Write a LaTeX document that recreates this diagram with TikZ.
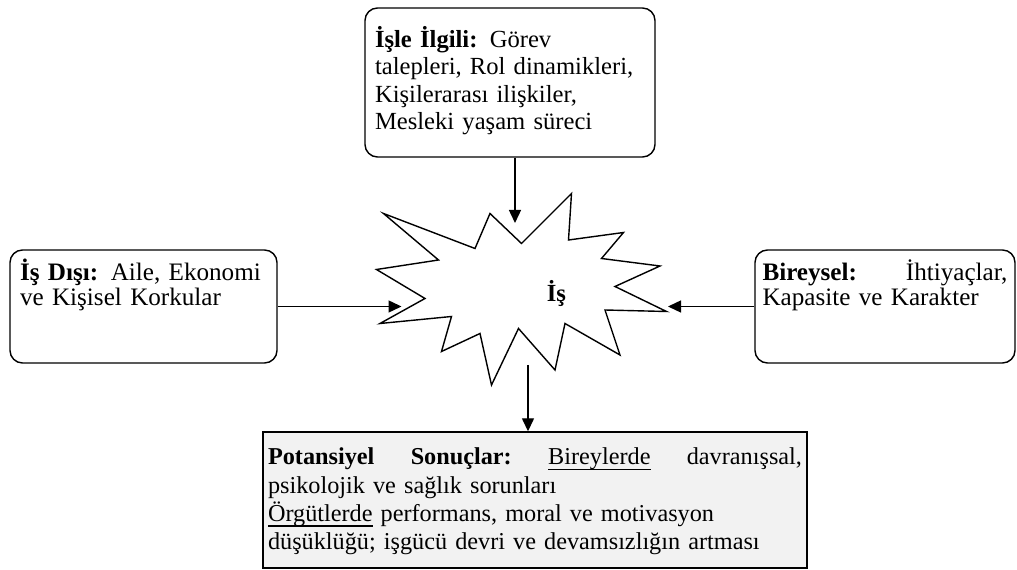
\documentclass[tikz,border=0pt]{standalone}
\usepackage{fontspec}
\setmainfont{Liberation Serif}
\usetikzlibrary{arrows.meta}
\definecolor{resultgray}{HTML}{F2F2F2}
\newcommand{\lineunder}[1]{\leavevmode\setbox0=\hbox{#1}\rlap{\rule[-3pt]{\wd0}{0.6pt}}\box0\relax}

\begin{document}
\begin{tikzpicture}[thick, >={Triangle[length=0.26cm,width=0.24cm]},
  factor node/.style={draw, rounded corners=0.25cm, align=left, inner ysep=0.2cm},
  result node/.style={draw, fill=resultgray, align=left, inner ysep=0.15cm, font=\fontsize{13.8}{16}\selectfont}]
  \useasboundingbox (0,0) rectangle (20.34,11.4);
  \node[factor node, font=\fontsize{14}{15.6}\selectfont, text width=5.4cm, inner xsep=0.2cm, text height=0.59cm, text depth=1.99cm] (work) at (10.2,9.75)
    {\textbf{İşle İlgili:} Görev\\ talepleri, Rol dinamikleri,\\ Kişilerarası ilişkiler,\\ Mesleki yaşam süreci};
  \node[factor node, font=\fontsize{14.3}{13.8}\selectfont, text width=4.94cm, inner xsep=0.2cm, text height=0.42cm, text depth=1.44cm] (outside) at (2.87,5.27)
    {\textbf{İş Dışı:} Aile, Ekonomi\\ ve Kişisel Korkular};
  \node[factor node, font=\fontsize{14.3}{13.8}\selectfont, text width=4.9cm, inner xsep=0.15cm, text height=0.42cm, text depth=1.44cm] (individual) at (17.7,5.27)
    {\textbf{Bireysel:}\hfill İhtiyaçlar,\\ Kapasite ve Karakter};
  \node[result node, text width=10.68cm, inner xsep=0.1cm, text height=0.51cm, text depth=1.91cm] (result) at (10.7,1.4)
    {\textbf{Potansiyel}\hfill\textbf{Sonuçlar:}\hfill\lineunder{Bireylerde}\hfill davranışsal,\\
     psikolojik ve sağlık sorunları\\
     \lineunder{Örgütlerde} performans, moral ve motivasyon\\
     düşüklüğü; işgücü devri ve devamsızlığın artması};
  % the burst
  \draw (7.67,7.13) -- (9.5,6.43) -- (9.8,7.13) -- (10.43,6.53) -- (11.43,7.53) -- (11.37,6.6)
    -- (12.47,6.75) -- (12.03,6.23) -- (13.2,6.08) -- (12.3,5.67) -- (13.33,5.17) -- (12.1,5.2)
    -- (12.4,4.3) -- (11.3,4.93) -- (11.1,4.0) -- (10.37,4.83) -- (9.83,3.7) -- (9.6,4.73)
    -- (8.83,4.37) -- (9.03,5.07) -- (7.6,4.93) -- (8.5,5.43) -- (7.53,6.01) -- (8.77,6.2) -- cycle;
  \node[font=\fontsize{14}{15}\selectfont\bfseries] (job) at (11.13,5.54) {İş};
  \coordinate (workTip) at (10.3,6.94);
  \coordinate (outsideTip) at (8.03,5.27);
  \coordinate (individualTip) at (13.36,5.27);
  \coordinate (burstFoot) at (10.56,4.1);
  \path[->]
    (work.south -| workTip) edge (workTip)
    (outside.east) edge (outsideTip)
    (individual.west) edge (individualTip)
    (burstFoot) edge (result.north -| burstFoot);
\end{tikzpicture}
\end{document}
